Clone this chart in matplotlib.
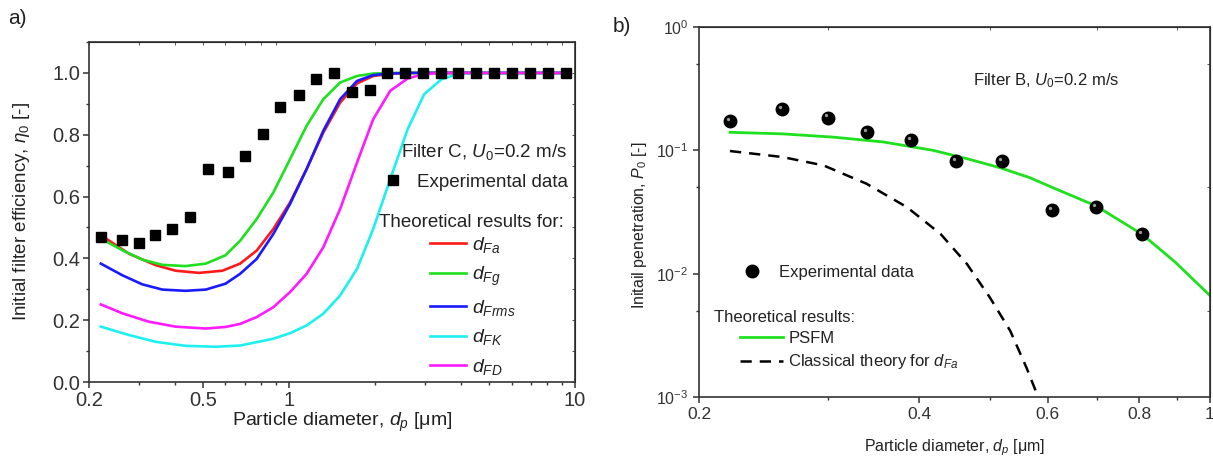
import matplotlib

matplotlib.use("Agg")
import matplotlib.pyplot as plt
from matplotlib.ticker import FixedLocator, MultipleLocator, NullFormatter, LogLocator, LogFormatterMathtext, FuncFormatter
from matplotlib.transforms import offset_copy
from matplotlib.lines import Line2D

plt.rcParams["font.family"] = ["Liberation Sans", "DejaVu Sans"]
plt.rcParams["mathtext.fontset"] = "custom"
plt.rcParams["mathtext.rm"] = "Liberation Sans"
plt.rcParams["mathtext.it"] = "Liberation Sans:italic"
plt.rcParams["mathtext.bf"] = "Liberation Sans:bold"
plt.rcParams["text.color"] = "#222222"
plt.rcParams["axes.labelcolor"] = "#222222"
plt.rcParams["xtick.color"] = "#333333"
plt.rcParams["ytick.color"] = "#333333"

# ---- panel a) filter C, initial efficiency ----
dp_exp_c = [0.22, 0.26, 0.30, 0.34, 0.39, 0.45, 0.52, 0.61, 0.70, 0.81, 0.93, 1.08, 1.24, 1.44,
            1.66, 1.92, 2.21, 2.54, 2.94, 3.40, 3.91, 4.52, 5.23, 6.04, 6.98, 8.07, 9.30]
eta_exp_c = [0.469, 0.458, 0.451, 0.475, 0.494, 0.533, 0.690, 0.679, 0.730, 0.801, 0.889, 0.927, 0.981, 1.0,
             0.937, 0.945, 1.0, 1.0, 1.0, 1.0, 1.0, 1.0, 1.0, 1.0, 1.0, 1.0, 1.0]

dp_fa = [0.22, 0.276, 0.342, 0.402, 0.485, 0.585, 0.675, 0.771, 0.882, 1.009, 1.153, 1.319, 1.51, 1.73,
         1.97, 2.26, 2.6, 9.6]
eta_fa = [0.475, 0.415, 0.378, 0.360, 0.353, 0.360, 0.383, 0.425, 0.495, 0.581, 0.689, 0.807, 0.904, 0.966,
          0.990, 0.997, 1.0, 1.0]

dp_fg = [0.22, 0.262, 0.307, 0.361, 0.435, 0.512, 0.60, 0.675, 0.771, 0.882, 1.009, 1.153, 1.319, 1.51,
         1.73, 1.97, 2.26, 9.6]
eta_fg = [0.464, 0.426, 0.396, 0.379, 0.375, 0.383, 0.410, 0.457, 0.527, 0.613, 0.721, 0.829, 0.915, 0.969,
          0.990, 0.998, 1.0, 1.0]

dp_frms = [0.22, 0.262, 0.307, 0.361, 0.435, 0.512, 0.60, 0.675, 0.771, 0.882, 1.009, 1.153, 1.319, 1.51,
           1.73, 1.97, 2.26, 2.6, 9.6]
eta_frms = [0.383, 0.345, 0.316, 0.299, 0.295, 0.299, 0.318, 0.350, 0.398, 0.479, 0.576, 0.689, 0.813, 0.915,
            0.974, 0.993, 0.998, 1.0, 1.0]

dp_fk = [0.22, 0.276, 0.342, 0.435, 0.555, 0.675, 0.882, 1.009, 1.153, 1.319, 1.51, 1.73, 1.97, 2.26,
         2.6, 2.97, 3.41, 3.9, 4.5, 9.6]
eta_fk = [0.179, 0.152, 0.130, 0.117, 0.114, 0.118, 0.140, 0.158, 0.183, 0.221, 0.280, 0.366, 0.495, 0.656,
          0.818, 0.931, 0.979, 0.997, 1.0, 1.0]

dp_fd = [0.22, 0.262, 0.324, 0.402, 0.512, 0.60, 0.675, 0.771, 0.882, 1.009, 1.153, 1.319, 1.51, 1.73,
         1.97, 2.26, 2.6, 2.97, 3.41, 9.6]
eta_fd = [0.251, 0.222, 0.195, 0.179, 0.173, 0.178, 0.188, 0.210, 0.242, 0.291, 0.350, 0.436, 0.560, 0.710,
          0.850, 0.942, 0.982, 0.996, 1.0, 1.0]

# ---- panel b) filter B, initial penetration ----
dp_exp_b = [0.2205, 0.260, 0.300, 0.340, 0.390, 0.449, 0.519, 0.608, 0.698, 0.807]
p_exp_b = [0.173, 0.216, 0.1845, 0.141, 0.1206, 0.0818, 0.0814, 0.0327, 0.0348, 0.0209]

dp_psfm = [0.2205, 0.26, 0.305, 0.357, 0.418, 0.465, 0.516, 0.567, 0.609, 0.698, 0.807, 0.895, 1.0]
p_psfm = [0.140, 0.136, 0.128, 0.117, 0.100, 0.0856, 0.0723, 0.060, 0.0499, 0.0355, 0.0209, 0.0125, 0.00664]

dp_classic = [0.2205, 0.26, 0.296, 0.339, 0.385, 0.428, 0.465, 0.500, 0.533, 0.561, 0.582]
p_classic = [0.0987, 0.0883, 0.0755, 0.0536, 0.0346, 0.021, 0.012, 0.0064, 0.00344, 0.00173, 0.001]

W, H = 1213, 466


def fx(x):
    return x / W


def fy(y):
    return 1 - y / H


fig = plt.figure(figsize=(W / 100, H / 100), dpi=100)

# ================= a) =================
ax = fig.add_axes([fx(89), fy(382), fx(575 - 89), (382 - 42) / H])
curves = [
    (dp_fa, eta_fa, "#ff1a1a", "$d_{Fa}$"),
    (dp_fg, eta_fg, "#1ee01e", "$d_{Fg}$"),
    (dp_frms, eta_frms, "#1a1aff", "$d_{Frms}$"),
    (dp_fk, eta_fk, "#1ef0f0", "$d_{FK}$"),
    (dp_fd, eta_fd, "#ff1aff", "$d_{FD}$"),
]
handles = []
for x, y, c, lab in curves:
    (ln,) = ax.plot(x, y, color=c, lw=1.9, label=lab, solid_joinstyle="round")
    handles.append(ln)
(sq,) = ax.plot(dp_exp_c, eta_exp_c, "s", color="black", ms=7.2, ls="none")

ax.set_xscale("log")
ax.set_xlim(0.2, 10)
ax.set_ylim(0, 1.1)
ax.xaxis.set_major_locator(FixedLocator([0.2, 0.5, 1, 10]))
ax.xaxis.set_major_formatter(FuncFormatter(lambda v, p: f"{v:g}"))
ax.xaxis.set_minor_locator(LogLocator(base=10, subs=range(2, 10)))
ax.xaxis.set_minor_formatter(NullFormatter())
ax.yaxis.set_major_locator(MultipleLocator(0.2))
ax.yaxis.set_major_formatter(FuncFormatter(lambda v, p: f"{v:.1f}"))
ax.yaxis.set_minor_locator(MultipleLocator(0.1))
ax.tick_params(which="major", direction="out", length=4.5, width=1.1, labelsize=14.5, pad=2)
ax.tick_params(which="minor", direction="out", length=2.5, width=1.0)
for s in ax.spines.values():
    s.set_linewidth(1.2)
    s.set_color("#333333")
ax.set_ylabel(r"Initial filter efficiency, $\eta_0$ [-]", fontsize=13.5, va="center")
ax.yaxis.set_label_coords(-0.138, 0.5)
ax.set_xlabel("Particle diameter, $d_p$ [μm]", fontsize=14, va="center")
ax.xaxis.set_label_coords(0.52, -0.12)

top = ax.secondary_xaxis("top")
top.tick_params(which="both", direction="in", labeltop=False, length=2.5, colors="#333333")
top.xaxis.set_minor_locator(LogLocator(base=10, subs=range(2, 10)))
top.xaxis.set_minor_formatter(NullFormatter())
top.set_xticks([])
rgt = ax.secondary_yaxis("right")
rgt.tick_params(which="both", direction="in", labelright=False, length=2.5, colors="#333333")
rgt.yaxis.set_minor_locator(MultipleLocator(0.1))
rgt.set_yticks([])

fig.text(fx(401), fy(152), "Filter C, $U_0$=0.2 m/s", fontsize=13.5, va="center", ha="left")
fig.text(fx(379), fy(222), "Theoretical results for:", fontsize=13.5, va="center", ha="left")
leg_exp = ax.legend([sq], ["Experimental data"], loc="center left", bbox_to_anchor=(fx(384), fy(182)),
                    bbox_transform=fig.transFigure, frameon=False, fontsize=13.5, borderpad=0,
                    borderaxespad=0, handlelength=1.0, handletextpad=0.75, numpoints=1)
ax.add_artist(leg_exp)
ax.legend(handles, [c[3] for c in curves], loc="center left", bbox_to_anchor=(fx(430), fy(306)),
          bbox_transform=fig.transFigure, frameon=False, fontsize=14, borderpad=0, borderaxespad=0,
          handlelength=1.85, handletextpad=0.3, labelspacing=0.5)

fig.text(fx(8), fy(19), "a)", fontsize=15, va="center", ha="left")

# ================= b) =================
bx = fig.add_axes([fx(699), fy(397), fx(1210 - 699), (397 - 27) / H])
(g,) = bx.plot(dp_psfm, p_psfm, color="#1ee01e", lw=2.0, solid_joinstyle="round")
(k,) = bx.plot(dp_classic, p_classic, color="black", lw=1.8, dashes=(4.5, 3.2))
(balls,) = bx.plot(dp_exp_b, p_exp_b, "o", color="black", ms=9, ls="none", zorder=3)
shine = offset_copy(bx.transData, fig=fig, x=-1.5, y=1.5, units="points")
bx.plot(dp_exp_b, p_exp_b, "o", color="#9a9a9a", ms=2.4, mew=0, ls="none", transform=shine, zorder=4)

bx.set_xscale("log")
bx.set_yscale("log")
bx.set_xlim(0.2, 1.0)
bx.set_ylim(1e-3, 1)
bx.xaxis.set_major_locator(FixedLocator([0.2, 0.4, 0.6, 0.8, 1.0]))
bx.xaxis.set_major_formatter(FuncFormatter(lambda v, p: f"{v:g}"))
bx.xaxis.set_minor_locator(FixedLocator([0.3, 0.5, 0.7, 0.9]))
bx.xaxis.set_minor_formatter(NullFormatter())
bx.yaxis.set_major_locator(LogLocator(base=10, numticks=10))
bx.yaxis.set_major_formatter(LogFormatterMathtext())
bx.yaxis.set_minor_locator(LogLocator(base=10, subs=[5], numticks=10))
bx.yaxis.set_minor_formatter(NullFormatter())
bx.tick_params(axis="x", which="major", labelsize=12.5)
bx.tick_params(axis="y", which="major", labelsize=11.5)
bx.tick_params(which="major", direction="out", length=4.5, width=1.1, pad=3)
bx.tick_params(which="minor", direction="out", length=2.5, width=1.0)
for s in bx.spines.values():
    s.set_linewidth(1.2)
    s.set_color("#333333")
bx.set_ylabel("Initail penetration, $P_0$ [-]", fontsize=11.5, va="center")
bx.yaxis.set_label_coords(-0.117, 0.465)
bx.set_xlabel("Particle diameter, $d_p$ [μm]", fontsize=11.5, va="center")
bx.xaxis.set_label_coords(0.5, -0.138)

btop = bx.secondary_xaxis("top")
btop.set_xticks([])
btop.xaxis.set_minor_locator(FixedLocator([0.3, 0.5, 0.7, 0.9]))
btop.xaxis.set_minor_formatter(NullFormatter())
btop.tick_params(which="both", direction="in", labeltop=False, length=2.5, colors="#333333")
brgt = bx.secondary_yaxis("right")
brgt.set_yticks([])
brgt.yaxis.set_minor_locator(LogLocator(base=10, subs=[5], numticks=10))
brgt.yaxis.set_minor_formatter(NullFormatter())
brgt.tick_params(which="both", direction="in", labelright=False, length=2.5, colors="#333333")

fig.text(fx(973), fy(81), "Filter B, $U_0$=0.2 m/s", fontsize=12, va="center", ha="left")
fig.text(fx(714), fy(317), "Theoretical results:", fontsize=12, va="center", ha="left")
ball_key = Line2D([], [], marker="o", color="black", ms=9, ls="none")
leg_b = bx.legend([ball_key], ["Experimental data"], loc="center left", bbox_to_anchor=(fx(744), fy(272)),
                  bbox_transform=fig.transFigure, frameon=False, fontsize=12, borderpad=0,
                  borderaxespad=0, handlelength=1.0, handletextpad=1.1, numpoints=1)
bx.add_artist(leg_b)
bx.legend([g, k], ["PSFM", "Classical theory for $d_{Fa}$"], loc="center left",
          bbox_to_anchor=(fx(740), fy(351)), bbox_transform=fig.transFigure, frameon=False,
          fontsize=12, borderpad=0, borderaxespad=0, handlelength=2.6, handletextpad=0.3,
          labelspacing=0.4)

fig.text(fx(613), fy(26), "b)", fontsize=15, va="center", ha="left")

fig.savefig("out.png", dpi=100)
plt.close(fig)
